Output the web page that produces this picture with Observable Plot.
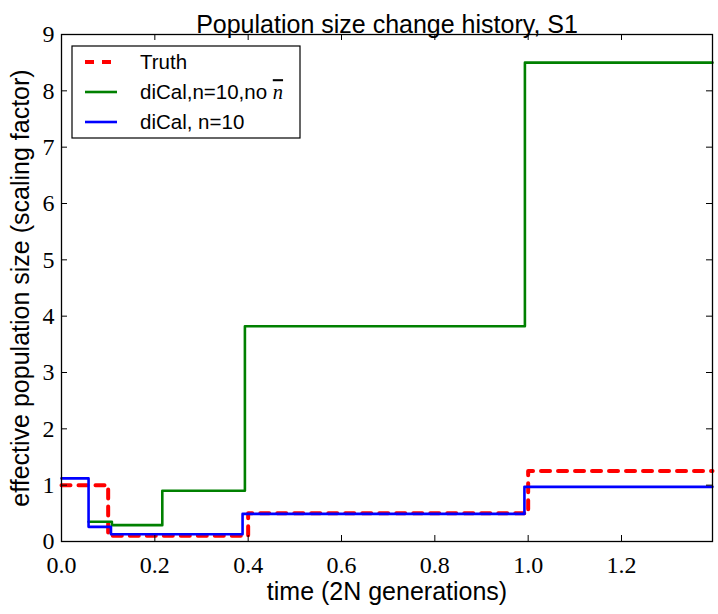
<!DOCTYPE html>
<html><head><meta charset="utf-8">
<script src="https://cdn.jsdelivr.net/npm/d3@7"></script>
<script src="https://cdn.jsdelivr.net/npm/@observablehq/plot@0.6"></script>
<style>body{margin:0;background:#fff;} #chart{width:718px;height:614px;}</style>
</head><body><div id="chart"></div>
<script>
// ---- data ----
const truthX = [0, 0.100, 0.400, 1.000, 1.395];
const truthY = [1.00, 0.10, 0.50, 1.25, 1.25];
const noNbarX = [0.058, 0.108, 0.216, 0.393, 0.993, 1.395];
const noNbarY = [0.35, 0.29, 0.90, 3.82, 8.50, 8.50];
const diCalX = [0, 0.058, 0.106, 0.388, 0.992, 1.395];
const diCalY = [1.12, 0.26, 0.13, 0.49, 0.97, 0.97];
const xTicks = [0, 0.2, 0.4, 0.6, 0.8, 1.0, 1.2];
const yTicks = [0, 1, 2, 3, 4, 5, 6, 7, 8, 9];
const seriesNames = ["Truth", "diCal,n=10,no", "diCal, n=10"];
const seriesColors = ["#ff0000", "#008000", "#0000ff"];

const W = 718, H = 614;
const mL = 61, mR = 6, mT = 34, mB = 73;
const innerW = W - mL - mR, innerH = H - mT - mB;
const tickLen = 6;
const sans = "'Liberation Sans', Arial, sans-serif";
const serif = "'Liberation Serif', 'DejaVu Serif', serif";

const toRows = (xs, ys) => xs.map((x, i) => ({x, y: ys[i]}));

const plot = Plot.plot({
  width: W, height: H,
  marginLeft: mL, marginRight: mR, marginTop: mT, marginBottom: mB,
  style: {background: "#fff", overflow: "visible"},
  x: {domain: [0, 1.395], label: null},
  y: {domain: [0, 9], label: null},
  marks: [
    // data lines
    Plot.line(toRows(truthX, truthY), {x: "x", y: "y", curve: "step-after", stroke: seriesColors[0], strokeWidth: 4, strokeDasharray: "9,8"}),
    Plot.line(toRows(noNbarX, noNbarY), {x: "x", y: "y", curve: "step-after", stroke: seriesColors[1], strokeWidth: 2.6}),
    Plot.line(toRows(diCalX, diCalY), {x: "x", y: "y", curve: "step-after", stroke: seriesColors[2], strokeWidth: 2.6}),
    // inward ticks on all four sides
    Plot.tickX(xTicks, {x: d => d, insetTop: innerH - tickLen, stroke: "black", strokeWidth: 1}),
    Plot.tickX(xTicks, {x: d => d, insetBottom: innerH - tickLen, stroke: "black", strokeWidth: 1}),
    Plot.tickY(yTicks, {y: d => d, insetRight: innerW - tickLen, stroke: "black", strokeWidth: 1}),
    Plot.tickY(yTicks, {y: d => d, insetLeft: innerW - tickLen, stroke: "black", strokeWidth: 1}),
    Plot.frame({stroke: "black", strokeWidth: 1.3}),
    // tick labels
    Plot.axisX({ticks: xTicks, tickSize: 0, tickPadding: 14, tickFormat: d => d.toFixed(1), fontSize: 24, fontFamily: serif, label: null}),
    Plot.axisY({ticks: yTicks, tickSize: 0, tickPadding: 7, tickFormat: d => String(d), fontSize: 24, fontFamily: serif, label: null}),
    // title and axis labels
    Plot.text(["Population size change history, S1"], {text: d => d, frameAnchor: "top", dy: -19, fontSize: 25, fontFamily: sans, fill: "black"}),
    Plot.text(["time (2N generations)"], {text: d => d, frameAnchor: "bottom", dy: 58, fontSize: 25, fontFamily: sans, fill: "black"}),
    Plot.text(["effective population size (scaling factor)"], {text: d => d, frameAnchor: "left", textAnchor: "middle", dx: -41, rotate: -90, fontSize: 25, fontFamily: sans, fill: "black"})
  ]
});
document.getElementById("chart").appendChild(plot);

// ---- legend ----
const svg = d3.select(plot);
const lg = svg.append("g").attr("class", "legend");
const lx = 72, ly = 46, lw = 228, lh = 92, rowH = 30;
lg.append("rect").attr("x", lx).attr("y", ly).attr("width", lw).attr("height", lh)
  .attr("fill", "white").attr("stroke", "black").attr("stroke-width", 1.2);
seriesNames.forEach((name, i) => {
  const cy = ly + 16 + i * rowH;
  lg.append("line").attr("x1", lx + 13).attr("x2", lx + 45).attr("y1", cy).attr("y2", cy)
    .attr("stroke", seriesColors[i]).attr("stroke-width", i === 0 ? 4 : 2.6)
    .attr("stroke-dasharray", i === 0 ? "9,8" : null);
  const t = lg.append("text").attr("x", lx + 68).attr("y", cy).attr("dy", "0.35em")
    .attr("text-anchor", "start")
    .attr("font-family", sans).attr("font-size", 20.5).attr("fill", "black").text(name);
  if (i === 1) {
    t.append("tspan").text(" ");
    t.append("tspan").attr("font-family", serif).attr("font-style", "italic")
      .attr("text-decoration", "overline").text("n");
  }
});
</script></body></html>
